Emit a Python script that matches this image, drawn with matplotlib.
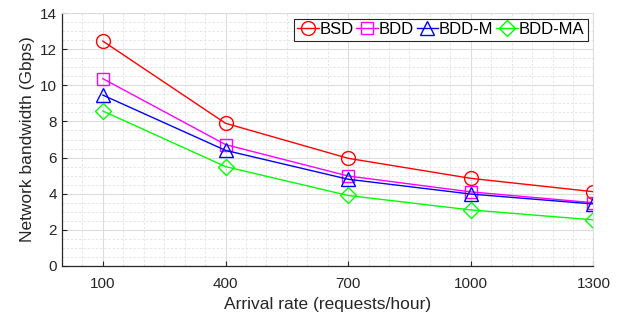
import matplotlib
matplotlib.use("Agg")
import matplotlib.pyplot as plt
from matplotlib.ticker import MultipleLocator

plt.rcParams['font.family'] = ['Liberation Sans', 'DejaVu Sans']

# data
arrival_rate = [100, 400, 700, 1000, 1300]
bsd = [12.45, 7.9, 5.96, 4.85, 4.11]
bdd = [10.37, 6.72, 4.98, 4.1, 3.5]
bdd_m = [9.46, 6.4, 4.8, 3.98, 3.43]
bdd_ma = [8.58, 5.5, 3.9, 3.1, 2.55]

series = [
    ("BSD", bsd, "#ff0000", "o", 10),
    ("BDD", bdd, "#ff00ff", "s", 8),
    ("BDD-M", bdd_m, "#0000ff", "^", 10),
    ("BDD-MA", bdd_ma, "#00ff00", "D", 8),
]

fig = plt.figure(figsize=(6.23, 3.2), dpi=100)
ax = fig.add_axes([0.0995, 0.169, 0.853, 0.79])

for name, vals, col, mk, ms in series:
    ax.plot(arrival_rate, vals, color=col, marker=mk, markersize=ms,
            markerfacecolor="none", markeredgecolor=col, linewidth=1.0,
            markeredgewidth=1.0, label=name)

ax.set_xlim(0, 1300)
ax.set_ylim(0, 14)
ax.set_xticks(arrival_rate)
ax.set_yticks(range(0, 15, 2))
ax.xaxis.set_minor_locator(MultipleLocator(50))
ax.yaxis.set_minor_locator(MultipleLocator(0.5))

ax.grid(True, which="major", color="#dcdcdc", linewidth=0.8, linestyle="-")
ax.grid(True, which="minor", color="#e2e2e2", linewidth=0.6, linestyle=(0, (3, 2)))
ax.set_axisbelow(True)

for s in ["top", "right"]:
    ax.spines[s].set_color("#dcdcdc")
for s in ["left", "bottom"]:
    ax.spines[s].set_color("#262626")
    ax.spines[s].set_linewidth(0.9)

ax.tick_params(which="major", direction="in", length=3.5, labelsize=11,
               colors="#262626", top=False, right=False)
ax.tick_params(which="minor", length=0)
ax.tick_params(axis="x", pad=8)

ax.set_xlabel("Arrival rate (requests/hour)", fontsize=12.5, color="#262626")
ax.set_ylabel("Network bandwidth (Gbps)", fontsize=12.5, color="#262626")

leg = ax.legend(loc="upper right", ncol=4, fontsize=12, frameon=True,
                fancybox=False, edgecolor="#262626", framealpha=1,
                handlelength=1.3, handletextpad=0.05, columnspacing=0.15,
                borderpad=0.2, borderaxespad=0.35)
leg.get_frame().set_linewidth(0.8)

fig.savefig("out.png", dpi=100)
